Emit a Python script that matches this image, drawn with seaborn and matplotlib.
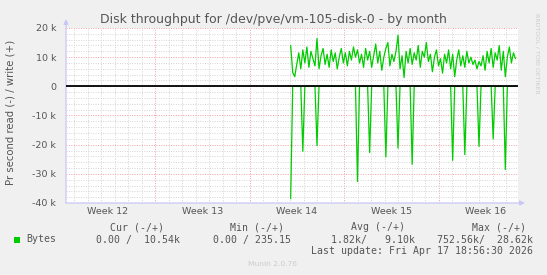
import numpy as np
import pandas as pd
import matplotlib
matplotlib.use("Agg")
import matplotlib.pyplot as plt
from matplotlib.patches import Rectangle
from matplotlib.ticker import MultipleLocator, FixedLocator, FuncFormatter, NullFormatter
import seaborn as sns

# ---------------- data ----------------
# time axis: days since Monday of ISO week 12 (2026)
t_start = 17.05
t_step = 0.15

# writes (bytes/s, thousands) - shown positive
writes_k = [
    14.0, 4.8, 3.3, 7.5, 11.5, 6.0, 12.5, 8.0, 13.5, 6.5,
    12.0, 9.5, 7.0, 16.4, 6.0, 10.5, 13.0, 7.5, 11.0, 6.5,
    12.5, 8.5, 11.5, 6.0, 10.0, 13.0, 8.0, 11.5, 7.0, 12.0,
    9.0, 13.5, 10.0, 12.5, 8.0, 11.0, 6.5, 13.0, 9.0, 12.0,
    6.5, 10.5, 14.5, 8.0, 12.0, 5.5, 10.0, 13.0, 15.0, 7.0,
    11.0, 8.5, 12.0, 17.5, 6.0, 10.5, 3.0, 12.0, 8.0, 13.0,
    7.5, 11.5, 9.0, 14.0, 6.5, 12.0, 10.0, 15.0, 8.5, 11.0,
    5.0, 10.0, 12.5, 7.0, 9.5, 4.5, 11.0, 8.0, 12.5, 6.0,
    11.0, 3.3, 9.0, 12.5, 7.0, 10.5, 6.5, 12.0, 8.0, 10.0,
    7.5, 9.0, 6.0, 8.5, 7.0, 10.5, 5.5, 12.0, 8.0, 13.0,
    6.5, 11.5, 9.0, 14.0, 5.5, 12.0, 3.3, 10.0, 13.5, 8.0,
    11.5, 9.5,
]

# reads (bytes/s, thousands) - shown negative; zero except these samples
read_spike_index = [0, 6, 13, 33, 39, 47, 53, 60, 80, 86, 93, 100, 106]
read_spike_k = [38.5, 22.3, 20.3, 32.6, 22.7, 24.2, 21.2, 26.7, 25.4, 23.4, 20.6, 18.0, 28.5]

week_labels = ["Week 12", "Week 13", "Week 14", "Week 15", "Week 16"]
week_starts = [0, 7, 14, 21, 28]

title = "Disk throughput for /dev/pve/vm-105-disk-0 - by month"
ylabel = "Pr second read (-) / write (+)"
legend_name = "Bytes"
hdr = ["Cur (-/+)", "Min (-/+)", "Avg (-/+)", "Max (-/+)"]
vals = ["0.00 /  10.54k", "0.00 / 235.15", "1.82k/   9.10k", "752.56k/  28.62k"]
last_update = "Last update: Fri Apr 17 18:56:30 2026"
munin_ver = "Munin 2.0.76"

# ---------------- frame ----------------
n = len(writes_k)
t = t_start + t_step * np.arange(n)
reads = np.zeros(n)
for i, v in zip(read_spike_index, read_spike_k):
    reads[i] = v
df = pd.DataFrame({"t": t, "write": np.array(writes_k) * 1000, "read": -reads * 1000})

sns.set_style("white")
plt.rcParams["font.family"] = ["DejaVu Sans"]

W, H = 547, 275
fig = plt.figure(figsize=(W / 100, H / 100), dpi=100)
fig.patch.set_facecolor("#F0F0F0")

def fx(px):
    return px / W

def fy(py):
    return 1 - py / H

L, R, T, B = 66, 518, 28, 203
ax = fig.add_axes([fx(L), fy(B), (R - L) / W, (B - T) / H])
ax.set_facecolor("white")

green = "#00CC00"
sns.lineplot(data=df, x="t", y="write", ax=ax, color=green, lw=0.9, zorder=3)
sns.lineplot(data=df, x="t", y="read", ax=ax, color=green, lw=0.9, zorder=3)
ax.axhline(0, color="black", lw=1.3, zorder=4)

ax.set_xlim((L - 60.5) / 13.5, (R - 60.5) / 13.5)
ax.set_ylim(-40000, 20000)

for s in ax.spines.values():
    s.set_visible(False)

ax.xaxis.set_major_locator(FixedLocator(week_starts))
ax.xaxis.set_minor_locator(MultipleLocator(1))
ax.xaxis.set_major_formatter(NullFormatter())
ax.yaxis.set_major_locator(MultipleLocator(10000))
ax.yaxis.set_minor_locator(MultipleLocator(2000))
ax.yaxis.set_major_formatter(FuncFormatter(lambda v, p: "0" if v == 0 else f"{int(v/1000)} k"))
ax.tick_params(which="both", length=0)
ax.tick_params(axis="y", labelsize=6.8, labelcolor="#555555", pad=7)

ax.grid(which="minor", color="#d4d4d4", lw=0.7, ls=(0, (1, 1.5)), zorder=0)
ax.grid(which="major", color="#f0a0a0", lw=0.7, ls=(0, (1, 1.5)), zorder=1)
ax.set_axisbelow(True)
ax.set_xlabel("")
ax.set_ylabel("")

# week labels at mid-week
for i, lab in enumerate(week_labels):
    ax.text(week_starts[i] + 3.5, -0.05, lab, transform=ax.get_xaxis_transform(),
            ha="center", va="center", fontsize=6.8, color="#555555")

# axis arrows
acol = "#c8c8f4"
ax.annotate("", xy=(0, (B - 19) / (B - T)), xytext=(0, 0), xycoords="axes fraction",
            arrowprops=dict(arrowstyle="-|>", color=acol, lw=0.9, mutation_scale=7,
                            shrinkA=0, shrinkB=0), annotation_clip=False)
ax.annotate("", xy=((525 - L) / (R - L), 0), xytext=(0, 0), xycoords="axes fraction",
            arrowprops=dict(arrowstyle="-|>", color=acol, lw=0.9, mutation_scale=7,
                            shrinkA=0, shrinkB=0), annotation_clip=False)

# texts
fig.text(fx(273), fy(19), title, ha="center", va="center", fontsize=9.0, color="#555555")
fig.text(fx(11), fy(112), ylabel, ha="center", va="center", rotation=90,
         fontsize=7.3, color="#555555")
fig.text(fx(537), fy(53), "RRDTOOL / TOBI OETIKER", ha="center", va="center",
         rotation=270, fontsize=4.5, color="#cccccc")

mono = "DejaVu Sans Mono"
fs = 7.1
tc = "#555555"
hdr_right = [164, 284.4, 405.4, 526.2]
val_right = [179.7, 291.3, 415.2, 533]
for h, x in zip(hdr, hdr_right):
    fig.text(fx(x), fy(227.5), h, ha="right", va="center", family=mono, fontsize=fs, color=tc)
for v, x in zip(vals, val_right):
    fig.text(fx(x), fy(239.5), v, ha="right", va="center", family=mono, fontsize=fs, color=tc)
fig.text(fx(26), fy(239.5), legend_name, ha="left", va="center", family=mono, fontsize=fs, color=tc)
fig.patches.append(Rectangle((fx(14), fy(242.5)), fx(5.5), 5.8 / H, transform=fig.transFigure,
                             facecolor=green, edgecolor="none"))
fig.text(fx(533), fy(251.5), last_update, ha="right", va="center", family=mono, fontsize=fs, color=tc)
fig.text(fx(273), fy(264.5), munin_ver, ha="center", va="center", fontsize=5.4, color="#cccccc")

fig.savefig("out.png", dpi=100, facecolor=fig.get_facecolor())
